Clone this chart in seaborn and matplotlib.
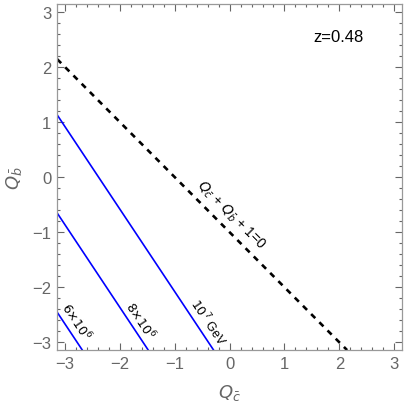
import numpy as np
import pandas as pd
import seaborn as sns
import matplotlib.pyplot as plt
from matplotlib.ticker import MultipleLocator

# contour lines in the (Qc, Qb) plane
line_labels = ['$6{\\times}10^6$', '$8{\\times}10^6$', '$10^7$ GeV']
line_qc_start = [-3.14, -3.14, -3.14]
line_qb_start = [-2.45, -0.65, 1.13]
line_qc_end = [-2.68, -1.48, -0.29]
line_qb_end = [-3.14, -3.14, -3.14]
label_qc = [-2.80, -1.63, -0.38]
label_qb = [-2.61, -2.59, -2.62]

# dashed boundary Qc + Qb + 1 = 0
bound_qc = [-3.14, 2.14]
bound_qb = [2.14, -3.14]
bound_label = '$Q_{\\bar{c}}$ + $Q_{\\bar{b}}$ + 1=0'

z_text = 'z=0.48'
lim = (-np.pi, np.pi)
ticks = [-3, -2, -1, 0, 1, 2, 3]

sns.set_theme(style="ticks")
plt.rcParams['font.family'] = ['Liberation Sans', 'DejaVu Sans']
plt.rcParams['mathtext.fontset'] = 'dejavusans'
gray = '#666666'

fig = plt.figure(figsize=(4.07, 4.06), dpi=100)
ax = fig.add_axes([0.140, 0.135, 0.848, 0.853])

rows = []
for i, lab in enumerate(line_labels):
    rows.append({'qc': line_qc_start[i], 'qb': line_qb_start[i], 'line': lab})
    rows.append({'qc': line_qc_end[i], 'qb': line_qb_end[i], 'line': lab})
df = pd.DataFrame(rows)
sns.lineplot(data=df, x='qc', y='qb', units='line', estimator=None,
             color='#0000ff', lw=1.2, ax=ax, sort=False)

bdf = pd.DataFrame({'qc': bound_qc, 'qb': bound_qb})
sns.lineplot(data=bdf, x='qc', y='qb', color='black', lw=1.9,
             linestyle=(0, (2.2, 2.2)), ax=ax, sort=False)

for lab, x, y in zip(line_labels, label_qc, label_qb):
    ax.text(x, y, lab, rotation=-56.3, rotation_mode='anchor',
            ha='center', va='center', fontsize=9, color='black')
ax.text(0.02, -0.68, bound_label, rotation=-45, rotation_mode='anchor',
        ha='center', va='center', fontsize=10, color='black')
ax.text(1.99, 2.55, z_text, ha='center', va='center', fontsize=12, color='black')

ax.set_xlim(lim)
ax.set_ylim(lim)
ax.set_xticks(ticks)
ax.set_yticks(ticks)
ax.set_xticklabels([str(t).replace('-', '\u2212') for t in ticks])
ax.set_yticklabels([str(t).replace('-', '\u2212') for t in ticks])
ax.xaxis.set_minor_locator(MultipleLocator(0.2))
ax.yaxis.set_minor_locator(MultipleLocator(0.2))
ax.tick_params(which='both', direction='in', top=True, right=True,
               colors=gray, labelcolor=gray, labelsize=12, width=0.8)
ax.tick_params(which='major', length=5, pad=4)
ax.tick_params(which='minor', length=2.5)
for s in ax.spines.values():
    s.set_color('#999999')
    s.set_linewidth(0.9)

ax.set_xlabel('$Q_{\\bar{c}}$', fontsize=13, color=gray, labelpad=8)
ax.set_ylabel('$Q_{\\bar{b}}$', fontsize=13, color=gray, labelpad=6)

fig.savefig('out.png', dpi=100)
